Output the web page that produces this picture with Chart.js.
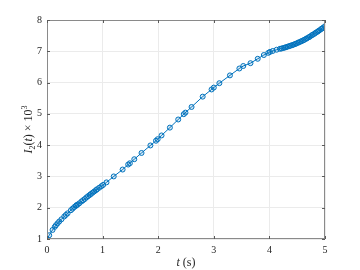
<!DOCTYPE html>
<html>
<head>
<meta charset="utf-8">
<script src="https://cdn.jsdelivr.net/npm/chart.js@4/dist/chart.umd.min.js"></script>
<style>
  html, body { margin: 0; padding: 0; background: #fff; }
  #wrap { width: 360px; height: 270px; }
</style>
</head>
<body>
<div id="wrap"><canvas id="chart" width="360" height="270"></canvas></div>
<script>
// sample times (s)
const tValues = [
    0, 0.04, 0.10, 0.14, 0.16, 0.19, 0.22, 0.26, 0.31, 0.34, 0.37, 0.43, 0.46, 0.49,
    0.52, 0.53, 0.55, 0.58, 0.62, 0.65, 0.68, 0.71, 0.74, 0.77, 0.79, 0.82, 0.85,
    0.88, 0.90, 0.94, 0.98, 1.01, 1.07, 1.20, 1.36, 1.46, 1.49, 1.57, 1.70, 1.86,
    1.96, 1.99, 2.06, 2.21, 2.36, 2.46, 2.49, 2.60, 2.80, 2.96, 3.00, 3.10, 3.29,
    3.46, 3.53, 3.66, 3.79, 3.90, 3.98, 4.01, 4.06, 4.13, 4.19,
    4.22, 4.25, 4.28, 4.30, 4.33, 4.36, 4.38, 4.41, 4.43, 4.46, 4.48, 4.51, 4.53,
    4.56, 4.58, 4.61, 4.63, 4.66, 4.68, 4.71, 4.73, 4.76, 4.78, 4.81, 4.83, 4.86,
    4.88, 4.90, 4.93, 4.95, 4.97, 5.00
];

// I2(t) x 10^3
const iValues = [
    1.00, 1.12, 1.29, 1.39, 1.44, 1.50, 1.56, 1.63, 1.72, 1.77, 1.82, 1.92, 1.97, 2.02,
    2.06, 2.08, 2.10, 2.14, 2.20, 2.24, 2.28, 2.33, 2.37, 2.41, 2.44, 2.48, 2.52,
    2.56, 2.59, 2.64, 2.69, 2.73, 2.81, 3.00, 3.22, 3.38, 3.42, 3.55, 3.75, 3.99,
    4.14, 4.19, 4.31, 4.56, 4.82, 4.99, 5.04, 5.22, 5.55, 5.78, 5.84, 5.98, 6.23,
    6.45, 6.53, 6.62, 6.76, 6.88, 6.95, 6.98, 7.01, 7.05, 7.08,
    7.09, 7.105, 7.12, 7.13, 7.15, 7.165, 7.18, 7.195, 7.21, 7.23, 7.245, 7.27, 7.285,
    7.31, 7.325, 7.35, 7.37, 7.40, 7.42, 7.45, 7.47, 7.51, 7.53, 7.56, 7.59, 7.62,
    7.645, 7.67, 7.71, 7.73, 7.76, 7.80
];

const xTicks = [0, 1, 2, 3, 4, 5];
const yTicks = [1, 2, 3, 4, 5, 6, 7, 8];

const serif = "'Liberation Serif', 'DejaVu Serif', serif";
const lineBlue = '#0072BD';

// draw box, inward ticks and the axis titles (mixed italic / sub / sup)
const matlabAxes = {
    id: 'matlabAxes',
    afterDraw(chart) {
        const { ctx, chartArea: a, scales } = chart;
        ctx.save();
        ctx.strokeStyle = '#8a8a8a';
        ctx.lineWidth = 1;
        ctx.strokeRect(a.left + 0.5, a.top + 0.5, a.right - a.left - 1, a.bottom - a.top - 1);

        ctx.strokeStyle = '#5a5a5a';
        ctx.beginPath();
        xTicks.forEach(v => {
            const x = Math.round(scales.x.getPixelForValue(v)) + 0.5;
            ctx.moveTo(x, a.bottom); ctx.lineTo(x, a.bottom - 3);
            ctx.moveTo(x, a.top); ctx.lineTo(x, a.top + 3);
        });
        yTicks.forEach(v => {
            const y = Math.round(scales.y.getPixelForValue(v)) + 0.5;
            ctx.moveTo(a.left, y); ctx.lineTo(a.left + 3, y);
            ctx.moveTo(a.right, y); ctx.lineTo(a.right - 3, y);
        });
        ctx.stroke();

        ctx.fillStyle = '#262626';
        ctx.textBaseline = 'alphabetic';

        // x title: t (s)
        const xParts = [
            { s: 't', f: 'italic 12px ' + serif, dy: 0 },
            { s: ' (s)', f: '12px ' + serif, dy: 0 }
        ];
        drawParts(ctx, xParts, (a.left + a.right) / 2, 266, 0);

        // y title: I2(t) x 10^3
        const yParts = [
            { s: 'I', f: 'italic 12px ' + serif, dy: 0 },
            { s: '2', f: '8px ' + serif, dy: 3 },
            { s: '(', f: '12px ' + serif, dy: 0 },
            { s: 't', f: 'italic 12px ' + serif, dy: 0 },
            { s: ') \u00d7 10', f: '12px ' + serif, dy: 0 },
            { s: '3', f: '8px ' + serif, dy: -5 }
        ];
        drawParts(ctx, yParts, 32, (a.top + a.bottom) / 2, -Math.PI / 2);
        ctx.restore();
    }
};

function drawParts(ctx, parts, cx, cy, rot) {
    let total = 0;
    parts.forEach(p => { ctx.font = p.f; p.w = ctx.measureText(p.s).width; total += p.w; });
    ctx.save();
    ctx.translate(cx, cy);
    ctx.rotate(rot);
    let x = -total / 2;
    parts.forEach(p => {
        ctx.font = p.f;
        ctx.textAlign = 'left';
        ctx.fillText(p.s, x, p.dy);
        x += p.w;
    });
    ctx.restore();
}

const points = tValues.map((t, i) => ({ x: t, y: iValues[i] }));

new Chart(document.getElementById('chart'), {
    type: 'line',
    data: {
        datasets: [{
            data: points,
            borderColor: lineBlue,
            borderWidth: 1,
            pointStyle: 'circle',
            pointRadius: 2.5,
            pointBorderWidth: 1,
            pointBorderColor: lineBlue,
            pointBackgroundColor: 'rgba(0,114,189,0.15)',
            tension: 0
        }]
    },
    options: {
        responsive: false,
        animation: false,
        layout: { padding: { top: 20, right: 35, left: 0, bottom: 0 } },
        plugins: {
            legend: { display: false },
            tooltip: { enabled: false }
        },
        scales: {
            x: {
                type: 'linear',
                min: 0,
                max: 5,
                afterBuildTicks: s => { s.ticks = xTicks.map(v => ({ value: v })); },
                afterFit: s => { s.height = 31; },
                grid: { color: '#ebebeb', drawTicks: false },
                border: { display: false },
                ticks: {
                    padding: 5,
                    color: '#262626',
                    font: { family: serif, size: 10 }
                }
            },
            y: {
                type: 'linear',
                min: 1,
                max: 8,
                afterBuildTicks: s => { s.ticks = yTicks.map(v => ({ value: v })); },
                afterFit: s => { s.width = 47; },
                grid: { color: '#ebebeb', drawTicks: false },
                border: { display: false },
                ticks: {
                    padding: 5,
                    color: '#262626',
                    font: { family: serif, size: 10 }
                }
            }
        }
    },
    plugins: [matlabAxes]
});
</script>
</body>
</html>
